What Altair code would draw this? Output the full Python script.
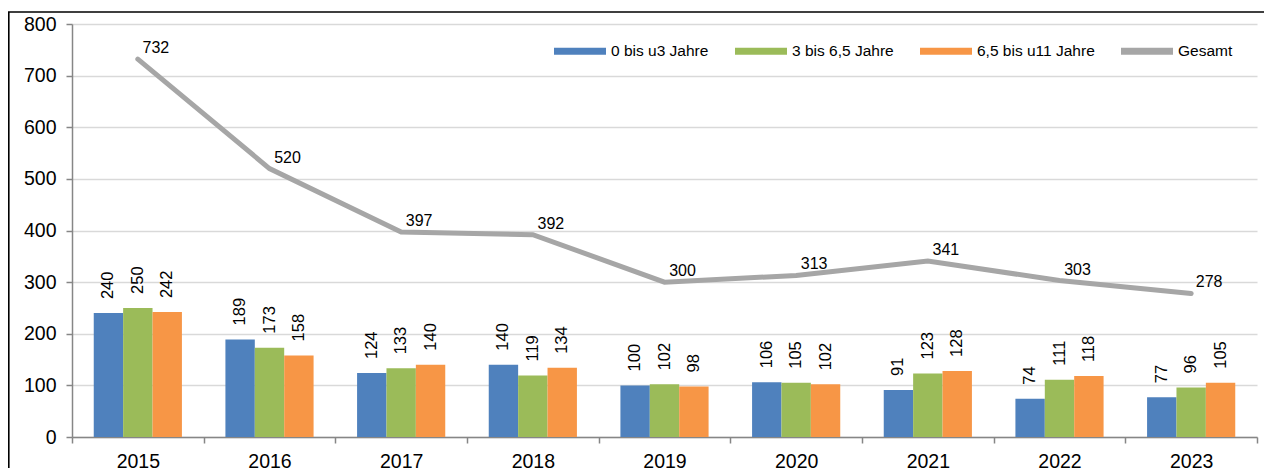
import altair as alt
import pandas as pd

years = ["2015", "2016", "2017", "2018", "2019", "2020", "2021", "2022", "2023"]
series_names = ["0 bis u3 Jahre", "3 bis 6,5 Jahre", "6,5 bis u11 Jahre", "Gesamt"]
s_0_u3 = [240, 189, 124, 140, 100, 106, 91, 74, 77]
s_3_65 = [250, 173, 133, 119, 102, 105, 123, 111, 96]
s_65_u11 = [242, 158, 140, 134, 98, 102, 128, 118, 105]
gesamt = [732, 520, 397, 392, 300, 313, 341, 303, 278]
colors = ["#4F81BD", "#9BBB59", "#F79646", "#A6A6A6"]

rows = []
for name, vals in zip(series_names[:3], [s_0_u3, s_3_65, s_65_u11]):
    for y, v in zip(years, vals):
        rows.append({"year": y, "series": name, "value": v})
bars_df = pd.DataFrame(rows)
line_df = pd.DataFrame({"year": years, "series": "Gesamt", "value": gesamt})
frame_df = pd.DataFrame({"a": [0]})

W, H = 1185, 413
FONT = "Liberation Sans"

x_enc = alt.X(
    "year:N",
    sort=years,
    title=None,
    scale=alt.Scale(paddingInner=0, paddingOuter=0),
    axis=alt.Axis(
        labelAngle=0, labelFontSize=19.5, labelColor="black", labelFont=FONT,
        domainColor="#868686", domainWidth=1.5, tickColor="#868686", tickWidth=1.5,
        tickSize=6, tickBand="extent", labelPadding=9, grid=False,
    ),
)
y_enc = alt.Y(
    "value:Q",
    title=None,
    scale=alt.Scale(domain=[0, 800], nice=False),
    axis=alt.Axis(
        values=list(range(0, 801, 100)), labelFontSize=19.5, labelColor="black", labelFont=FONT,
        domainColor="#868686", domainWidth=1.5, tickColor="#868686", tickWidth=1.5,
        tickSize=6, labelPadding=10, gridColor="#D9D9D9", gridWidth=1.5,
    ),
)
color_enc = alt.Color(
    "series:N",
    scale=alt.Scale(domain=series_names, range=colors),
    legend=alt.Legend(
        title=None, orient="none", legendX=482, legendY=1, direction="horizontal",
        columns=4, columnPadding=26, labelFontSize=15.5, labelFont=FONT, labelColor="black",
        symbolType="M-1,-0.13H1V0.13H-1Z", symbolSize=2704, symbolStrokeWidth=0,
        labelOffset=5, symbolOpacity=1,
    ),
)

bars = alt.Chart(bars_df).mark_bar(stroke=None).encode(
    x=x_enc,
    xOffset=alt.XOffset("series:N", sort=series_names[:3],
                        scale=alt.Scale(paddingInner=0, paddingOuter=0.74)),
    y=y_enc,
    color=color_enc,
)
bar_labels = alt.Chart(bars_df).mark_text(
    angle=270, align="left", baseline="middle", dx=14, fontSize=16.5, font=FONT, color="black"
).encode(
    x=alt.X("year:N", sort=years),
    xOffset=alt.XOffset("series:N", sort=series_names[:3]),
    y="value:Q",
    text="value:Q",
)
line = alt.Chart(line_df).mark_line(strokeWidth=5, strokeCap="round").encode(
    x=alt.X("year:N", sort=years),
    y="value:Q",
    color=alt.Color("series:N"),
)
line_labels = alt.Chart(line_df).mark_text(
    align="center", baseline="middle", dx=18, dy=-11, fontSize=16, font=FONT, color="black"
).encode(
    x=alt.X("year:N", sort=years),
    y="value:Q",
    text="value:Q",
)
frame = alt.Chart(frame_df).mark_rect(fill=None, stroke="black", strokeWidth=1.6).encode(
    x=alt.value(-63.2), x2=alt.value(W + 30), y=alt.value(-12), y2=alt.value(H + 80)
)

chart = alt.layer(bars, bar_labels, line, line_labels, frame).resolve_scale(
    xOffset="shared"
).properties(
    width=W, height=H,
    autosize=alt.AutoSizeParams(type="none"),
    padding={"left": 64, "top": 16, "right": 7, "bottom": 45},
    background="white",
).configure_view(stroke=None)

chart.save("out.html", embed_options={"renderer": "svg", "actions": False})
